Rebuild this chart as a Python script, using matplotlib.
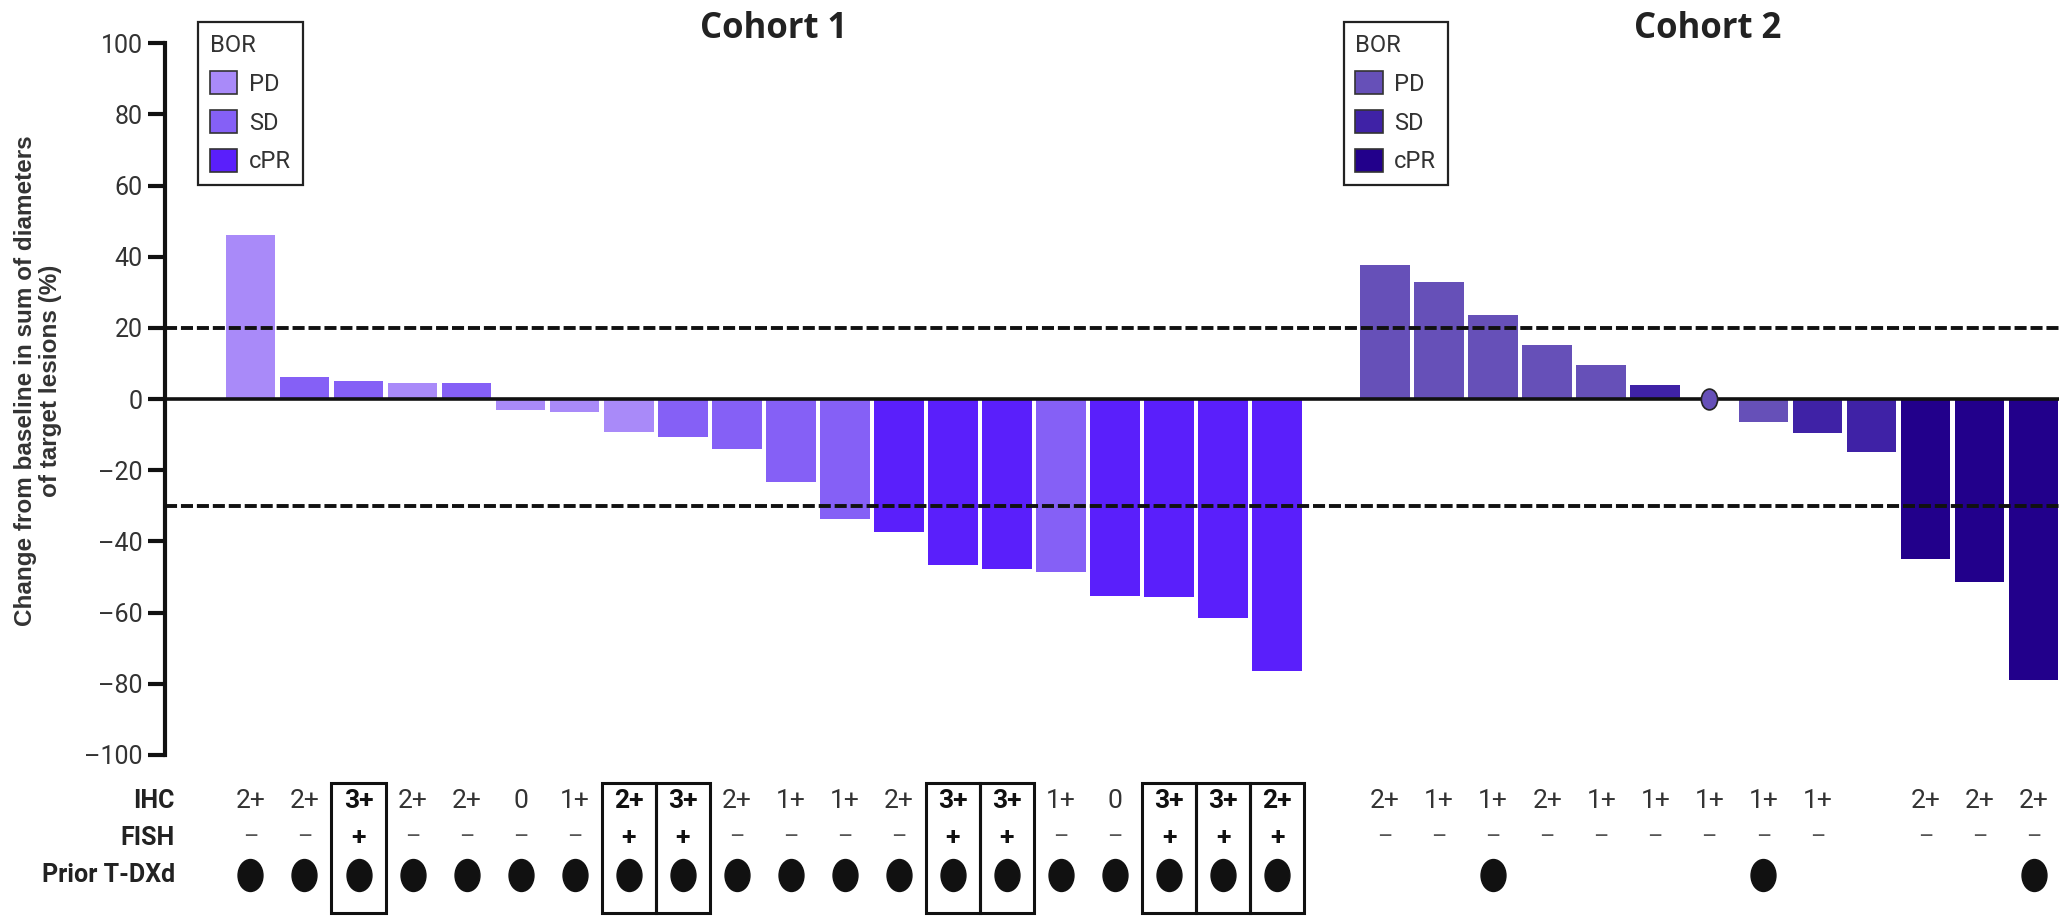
import numpy as np
import matplotlib
matplotlib.use('Agg')
import matplotlib.pyplot as plt
from matplotlib.patches import Patch, Rectangle
from matplotlib.path import Path
from matplotlib.transforms import Affine2D

# data
c1_values = [46, 6.3, 5.2, 4.4, 4.4, -3, -3.7, -9.3, -10.7, -14, -23.3, -33.7,
             -37.4, -46.7, -47.8, -48.5, -55.2, -55.6, -61.5, -76.3]
c1_bor = ['PD', 'SD', 'SD', 'PD', 'SD', 'PD', 'PD', 'PD', 'SD', 'SD', 'SD', 'SD',
          'cPR', 'cPR', 'cPR', 'SD', 'cPR', 'cPR', 'cPR', 'cPR']
c1_ihc = ['2+', '2+', '3+', '2+', '2+', '0', '1+', '2+', '3+', '2+', '1+', '1+',
          '2+', '3+', '3+', '1+', '0', '3+', '3+', '2+']
c1_fish = ['–', '–', '+', '–', '–', '–', '–', '+', '+', '–', '–', '–',
           '–', '+', '+', '–', '–', '+', '+', '+']
c1_prior = [1] * 20

# cohort 2: None = no measurable bar (shown as a dot at 0)
c2_values = [37.8, 33, 23.7, 15.2, 9.6, 4.1, None, -6.3, -9.6, -14.8, -44.8, -51.5, -78.9]
c2_bor = ['PD', 'PD', 'PD', 'PD', 'PD', 'SD', 'PD', 'PD', 'SD', 'SD', 'cPR', 'cPR', 'cPR']
c2_ihc = ['2+', '1+', '1+', '2+', '1+', '1+', '1+', '1+', '1+', '', '2+', '2+', '2+']
c2_fish = ['–', '–', '–', '–', '–', '–', '–', '–', '–', '', '–', '–', '–']
c2_prior = [0, 0, 1, 0, 0, 0, 0, 1, 0, 0, 0, 0, 1]

c1_colours = {'PD': '#A98AF9', 'SD': '#8560F6', 'cPR': '#5A1FFB'}
c2_colours = {'PD': '#6650B8', 'SD': '#3F22A6', 'cPR': '#22008B'}

plt.rcParams['font.family'] = ['Roboto', 'DejaVu Sans']
txt_col = '#333333'

fig = plt.figure(figsize=(20.67, 9.16), dpi=100)
ax = fig.add_axes([0.0797, 0.1758, 0.9164, 0.777])
tax = fig.add_axes([0.0797, 0.0, 0.9164, 0.1463], sharex=ax)

x1 = np.arange(len(c1_values))
x2 = np.arange(len(c2_values)) + len(c1_values) + 1
bw = 0.92

ax.bar(x1, c1_values, width=bw, color=[c1_colours[b] for b in c1_bor], zorder=2)
c2_bar_x = [x for x, v in zip(x2, c2_values) if v is not None]
c2_bar_v = [v for v in c2_values if v is not None]
c2_bar_c = [c2_colours[b] for b, v in zip(c2_bor, c2_values) if v is not None]
ax.bar(c2_bar_x, c2_bar_v, width=bw, color=c2_bar_c, zorder=2)

# tall ellipse marker
ell = Path.unit_circle().transformed(Affine2D().scale(0.78, 1.0))

ax.axhline(0, color='#111111', lw=2.6, zorder=3)
for yref in [20, -30]:
    ax.axhline(yref, color='#111111', lw=2.8, ls=(0, (3.1, 1.0)), zorder=4)

for x, v, b in zip(x2, c2_values, c2_bor):
    if v is None:
        ax.plot(x, 0, marker=ell, markersize=15, color=c2_colours[b],
                markeredgecolor='#222222', markeredgewidth=1.2, zorder=5)

ax.set_xlim(-1.586, 33.47)
ax.set_ylim(-100, 100)
ax.set_yticks(range(-100, 101, 20))
ax.set_yticklabels(['–100', '–80', '–60', '–40', '–20', '0', '20', '40', '60', '80', '100'])
for s in ['top', 'right', 'bottom']:
    ax.spines[s].set_visible(False)
ax.spines['left'].set_linewidth(3)
ax.spines['left'].set_color('#111111')
ax.tick_params(axis='y', length=12, width=3, color='#111111', labelsize=18,
               labelcolor=txt_col, pad=4)
ax.tick_params(axis='x', bottom=False, labelbottom=False)

# legends
def bor_legend(colours, xfrac):
    handles = [Patch(facecolor=colours[k], edgecolor='#333333', lw=1.2, label=k)
               for k in ['PD', 'SD', 'cPR']]
    leg = ax.legend(handles=handles, title='BOR', loc='upper left',
                    bbox_to_anchor=(xfrac, 0.976), bbox_transform=fig.transFigure,
                    fontsize=17, title_fontsize=17, alignment='left',
                    fancybox=False, framealpha=1, edgecolor='#222222',
                    handlelength=1.15, handleheight=1.15, handletextpad=0.5,
                    labelspacing=0.6, borderpad=0.5, borderaxespad=0)
    leg.get_frame().set_linewidth(1.6)
    for t in leg.get_texts():
        t.set_color(txt_col)
    leg.get_title().set_color(txt_col)
    return leg

leg1 = bor_legend(c1_colours, 0.0958)
ax.add_artist(leg1)
bor_legend(c2_colours, 0.650)

# titles and axis label
fig.text(774 / 2067, 1 - 29 / 916, 'Cohort 1', ha='center', va='center',
         family=['Open Sans', 'DejaVu Sans'], weight='bold', size=25, color='#222222')
fig.text(1708 / 2067, 1 - 29 / 916, 'Cohort 2', ha='center', va='center',
         family=['Open Sans', 'DejaVu Sans'], weight='bold', size=25, color='#222222')
fig.text(38 / 2067, 1 - 381 / 916,
         'Change from baseline in sum of diameters\nof target lesions (%)',
         rotation=90, ha='center', va='center', family=['Liberation Sans', 'DejaVu Sans'],
         weight='bold', size=17.5, color=txt_col, linespacing=1.15)

# table below
tax.set_ylim(3.11, -0.514)
tax.axis('off')
for row, lab in enumerate(['IHC', 'FISH', 'Prior T-DXd']):
    tax.text(-1.40, row, lab, ha='right', va='center', weight='bold', size=18,
             color='#222222', clip_on=False)

for x, ihc, fish, prior in zip(x1, c1_ihc, c1_fish, c1_prior):
    boxed = fish == '+'
    tax.text(x, 0, ihc, ha='center', va='center', size=19,
             weight='bold' if boxed else 'normal', color='#111111' if boxed else txt_col)
    tax.text(x, 1, fish, ha='center', va='center', size=19 if boxed else 17,
             weight='bold' if boxed else 'normal', color='#111111' if boxed else '#555555')
    if prior:
        tax.plot(x, 2, marker=ell, markersize=23, color='#111111')
    if boxed:
        tax.add_patch(Rectangle((x - 0.5, -0.5), 1.0, 3.53, fill=False,
                                edgecolor='#111111', lw=2.2, clip_on=False))

for x, ihc, fish, prior in zip(x2, c2_ihc, c2_fish, c2_prior):
    tax.text(x, 0, ihc, ha='center', va='center', size=19, color=txt_col)
    tax.text(x, 1, fish, ha='center', va='center', size=17, color='#555555')
    if prior:
        tax.plot(x, 2, marker=ell, markersize=23, color='#111111')

fig.savefig('out.png', dpi=100)
